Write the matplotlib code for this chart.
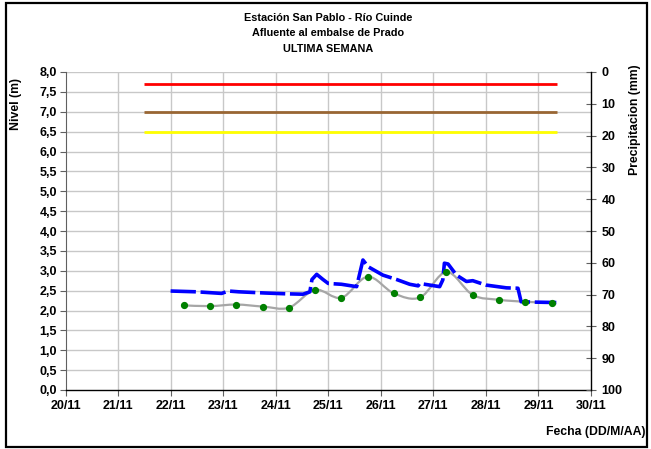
import matplotlib
matplotlib.use("Agg")
import matplotlib.pyplot as plt
from matplotlib.path import Path
from matplotlib.patches import PathPatch, Rectangle
import numpy as np

plt.rcParams['font.family'] = ['Liberation Sans', 'DejaVu Sans']
plt.rcParams['font.weight'] = 'bold'

# ---- data ----
title_lines = ["Estación San Pablo - Río Cuinde", "Afluente al embalse de Prado", "ULTIMA SEMANA"]
day_ticks = [20, 21, 22, 23, 24, 25, 26, 27, 28, 29, 30]
day_labels = ["20/11", "21/11", "22/11", "23/11", "24/11", "25/11", "26/11", "27/11", "28/11", "29/11", "30/11"]
level_ticks = [0.0, 0.5, 1.0, 1.5, 2.0, 2.5, 3.0, 3.5, 4.0, 4.5, 5.0, 5.5, 6.0, 6.5, 7.0, 7.5, 8.0]
precip_ticks = [0, 10, 20, 30, 40, 50, 60, 70, 80, 90, 100]

# threshold lines (level, colour) spanning the period
thr_start, thr_end = 21.5, 29.35
thr_levels = [7.7, 7.0, 6.5]
thr_colors = ['#ff0000', '#996633', '#ffff00']

# continuous level record (blue)
lvl_x = [22.0, 22.5, 22.97, 23.1, 23.3, 23.8, 24.2, 24.52, 24.65, 24.69, 24.78, 24.9,
         25.0, 25.25, 25.54, 25.66, 25.76, 26.04, 26.3, 26.55, 26.71, 26.74, 27.12,
         27.18, 27.21, 27.28, 27.44, 27.63, 27.75, 28.0, 28.39, 28.61, 28.67, 28.96, 29.34]
lvl_y = [2.49, 2.47, 2.43, 2.49, 2.47, 2.44, 2.42, 2.41, 2.47, 2.78, 2.91, 2.78,
         2.68, 2.66, 2.60, 3.27, 3.10, 2.89, 2.78, 2.66, 2.62, 2.68, 2.60,
         2.77, 3.19, 3.17, 2.89, 2.73, 2.75, 2.64, 2.57, 2.56, 2.22, 2.21, 2.20]

# staff readings (gray smooth line with green dots)
read_x = [22.25, 22.75, 23.25, 23.75, 24.25, 24.75, 25.25, 25.75, 26.25, 26.75,
          27.25, 27.75, 28.25, 28.75, 29.25]
read_y = [2.13, 2.11, 2.15, 2.10, 2.07, 2.52, 2.32, 2.85, 2.43, 2.33,
          2.97, 2.39, 2.27, 2.22, 2.19]

W, H = 651, 449
fig = plt.figure(figsize=(W / 100, H / 100), dpi=100)
ax = fig.add_axes([65.5 / W, 1 - 390 / H, (591 - 65.5) / W, (390 - 72) / H])

# grid
for d in day_ticks[1:-1]:
    ax.axvline(d, color='#c8c8c8', lw=1.0, zorder=0)
for lv in level_ticks[1:]:
    ax.axhline(lv, color='#c8c8c8', lw=1.0, zorder=0)

# thresholds
for lv, c in zip(thr_levels, thr_colors):
    ax.plot([thr_start, thr_end], [lv, lv], color=c, lw=2.0, solid_capstyle='butt', zorder=2)

# smoothed gray line (Catmull-Rom style bezier through readings)
px = np.array(read_x)
py = np.array(read_y)
verts = [(px[0], py[0])]
codes = [Path.MOVETO]
n = len(px)
for i in range(n - 1):
    p0 = np.array([px[max(i - 1, 0)], py[max(i - 1, 0)]])
    p1 = np.array([px[i], py[i]])
    p2 = np.array([px[i + 1], py[i + 1]])
    p3 = np.array([px[min(i + 2, n - 1)], py[min(i + 2, n - 1)]])
    c1 = p1 + (p2 - p0) / 6.0
    c2 = p2 - (p3 - p1) / 6.0
    verts += [tuple(c1), tuple(c2), tuple(p2)]
    codes += [Path.CURVE4] * 3
ax.add_patch(PathPatch(Path(verts, codes), facecolor='none', edgecolor='#a6a6a6', lw=1.6, zorder=3))
ax.plot(read_x, read_y, linestyle='none', marker='o', ms=4.2, color='#008000', zorder=5)

# blue level line
ax.plot(lvl_x, lvl_y, color='#0000ff', lw=2.6, dashes=(7, 1.3), zorder=4)

ax.set_xlim(20, 30)
ax.set_ylim(0, 8)
ax.set_xticks(day_ticks)
ax.set_xticklabels(day_labels)
ax.set_yticks(level_ticks)
ax.set_yticklabels([f"{v:.1f}".replace('.', ',') for v in level_ticks])
ax.tick_params(axis='both', labelsize=9, width=0.8, colors='black')
ax.tick_params(axis='y', direction='out', length=4, color='#606060', pad=2)
ax.tick_params(axis='x', direction='out', length=4, color='#606060', pad=3)
for lab in ax.get_xticklabels() + ax.get_yticklabels():
    lab.set_fontweight('bold')
ax.spines['top'].set_visible(False)
ax.spines['right'].set_visible(False)
ax.spines['left'].set_color('#606060')
ax.spines['bottom'].set_color('black')
ax.spines['bottom'].set_linewidth(1.0)

ax2 = ax.twinx()
ax2.set_ylim(100, 0)
ax2.set_yticks(precip_ticks)
ax2.set_yticklabels([str(v) for v in precip_ticks])
ax2.tick_params(axis='y', direction='inout', length=7, labelsize=9, color='#606060', pad=4)
for lab in ax2.get_yticklabels():
    lab.set_fontweight('bold')
ax2.spines['top'].set_visible(False)
ax2.spines['left'].set_visible(False)
ax2.spines['bottom'].set_visible(False)
ax2.spines['right'].set_color('black')
ax2.spines['right'].set_linewidth(1.0)

# texts
for i, t in enumerate(title_lines):
    fig.text(328 / W, 1 - (18 + i * 15.5) / H, t, ha='center', va='center', fontsize=7.8, fontweight='bold')
fig.text(16 / W, 1 - 104 / H, "Nivel (m)", rotation=90, ha='center', va='center', fontsize=8.8, fontweight='bold')
fig.text(635 / W, 1 - 120 / H, "Precipitacion (mm)", rotation=90, ha='center', va='center', fontsize=8.8, fontweight='bold')
fig.text(645 / W, 1 - 432 / H, "Fecha (DD/M/AA)", ha='right', va='center', fontsize=8.8, fontweight='bold')

# outer border
fig.patches.append(Rectangle((5.5 / W, 2.5 / H), (647 - 5.5) / W, (446 - 2.5) / H,
                             transform=fig.transFigure, fill=False, edgecolor='black', lw=1.6))

fig.savefig("out.png", dpi=100)
